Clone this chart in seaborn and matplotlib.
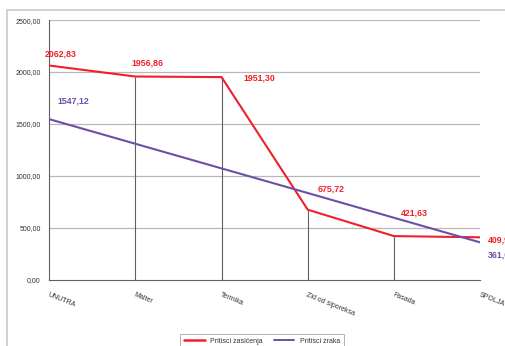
import matplotlib
matplotlib.use("Agg")
import matplotlib.pyplot as plt
from matplotlib.patches import Rectangle
import seaborn as sns
import pandas as pd

categories = ["UNUTRA", "Malter", "Termika", "Zid od siporeksa", "Fasada", "SPOLJA"]
pritisci_zasicenja = [2062.83, 1956.86, 1951.30, 675.72, 421.63, 409.90]
pritisci_zraka = [1547.12, 1310.0, 1073.0, 836.0, 598.0, 361.05]
y_ticks = [0, 500, 1000, 1500, 2000, 2500]

red = "#f0202a"
purple = "#6e4fa6"

sns.set_theme(style="white")
plt.rcParams["font.family"] = ["Liberation Sans", "DejaVu Sans"]

df = pd.DataFrame({
    "Sloj": categories * 2,
    "Pritisak": pritisci_zasicenja + pritisci_zraka,
    "Serija": ["Pritisci zasićenja"] * len(categories) + ["Pritisci zraka"] * len(categories),
})

fig = plt.figure(figsize=(5.06, 3.46), dpi=100)
ax = fig.add_axes([0.097, 0.191, 0.852, 0.751])

# outer chart frame
fig.patches.append(Rectangle((0.014, -0.1), 1.2, 1.071, transform=fig.transFigure,
                             fill=False, edgecolor="#c8c8c8", linewidth=1.2, zorder=0))

# horizontal grid
for v in y_ticks[1:]:
    ax.axhline(v, color="#b8b8b8", linewidth=0.9, zorder=0)

# drop lines from the saturation series
x_pos = list(range(len(categories)))
ax.vlines(x_pos[1:-1], 0, pritisci_zasicenja[1:-1], color="#606060", linewidth=0.8, zorder=1)

sns.lineplot(data=df, x="Sloj", y="Pritisak", hue="Serija", sort=False,
             palette=[red, purple], ax=ax, zorder=3)
for line, lw in zip(ax.get_lines()[-2:], [1.8, 1.4]):
    line.set_linewidth(lw)

ax.set_xlim(0, len(categories) - 1)
ax.set_ylim(0, 2500)
ax.set_yticks(y_ticks)
ax.set_yticklabels([f"{v:.2f}".replace(".", ",") for v in y_ticks], fontsize=5, color="#333333")
ax.set_xticks(x_pos)
ax.set_xticklabels(categories, rotation=-22, ha="left", rotation_mode="anchor",
                   fontsize=5, color="#333333")
ax.tick_params(axis="y", length=3, width=0.6, color="#555555", pad=3)
ax.tick_params(axis="x", length=0, pad=8)
ax.set_xlabel("")
ax.set_ylabel("")
for side in ["top", "right"]:
    ax.spines[side].set_visible(False)
ax.spines["left"].set_color("#606060")
ax.spines["bottom"].set_color("#606060")
ax.spines["left"].set_linewidth(0.8)
ax.spines["bottom"].set_linewidth(0.8)

# value labels
lbl = dict(fontsize=6.3, fontweight="bold", clip_on=False)
red_offsets = [(-4, 12), (-4, 14), (22, -1), (10, 21), (7, 23), (8, -3)]
for i, (v, (dx, dy)) in enumerate(zip(pritisci_zasicenja, red_offsets)):
    ax.annotate(f"{v:.2f}".replace(".", ","), (i, v), xytext=(dx, dy), textcoords="offset pixels",
                color=red, ha="left", va="center", **lbl)
purple_labels = {0: (8, 18), 5: (8, -13)}
for i, (dx, dy) in purple_labels.items():
    v = pritisci_zraka[i]
    ax.annotate(f"{v:.2f}".replace(".", ","), (i, v), xytext=(dx, dy), textcoords="offset pixels",
                color=purple, ha="left", va="center", **lbl)

leg = ax.legend(loc="upper center", bbox_to_anchor=(0.518, 0.046), bbox_transform=fig.transFigure,
                ncol=2, fontsize=5, frameon=True, fancybox=False, edgecolor="#909090",
                handlelength=3, columnspacing=1.5, borderpad=0.6)
leg.get_frame().set_linewidth(0.6)
for t in leg.get_texts():
    t.set_color("#333333")

fig.savefig("out.png", dpi=100)
